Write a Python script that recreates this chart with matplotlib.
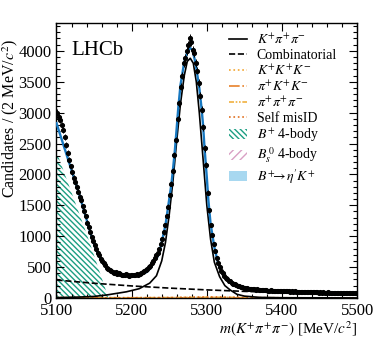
import matplotlib
matplotlib.use("Agg")
import matplotlib.pyplot as plt
import matplotlib.patches as mpatches
from matplotlib.lines import Line2D
from matplotlib.ticker import MultipleLocator
import numpy as np

plt.rcParams["font.family"] = ["Liberation Serif", "DejaVu Serif"]
plt.rcParams["mathtext.fontset"] = "stix"
plt.rcParams["hatch.linewidth"] = 1.0

# ── data: 2 MeV bins from 5100 to 5500 ────────────────────────────────────────
bin_centres = np.arange(5101, 5500, 2)
counts = [
    3000, 2930, 2880, 2800, 2720, 2610, 2480, 2350, 2240, 2130,
    2040, 1950, 1880, 1800, 1720, 1640, 1580, 1490, 1400, 1320,
    1220, 1150, 1060, 990, 920, 860, 790, 730, 690, 630,
    600, 560, 530, 490, 470, 460, 440, 420, 410, 420,
    395, 400, 385, 370, 380, 365, 385, 370, 360, 375,
    380, 365, 372, 385, 380, 395, 410, 415, 440, 450,
    470, 500, 510, 560, 600, 640, 700, 730, 790, 870,
    960, 1060, 1180, 1330, 1480, 1660, 1850, 2060, 2320, 2560,
    2890, 3150, 3420, 3600, 3800, 3880, 4000, 4100, 4200, 4150,
    4020, 3960, 3800, 3680, 3480, 3270, 3050, 2760, 2420, 2150,
    1700, 1420, 1180, 1020, 870, 760, 640, 560, 500, 440,
    400, 360, 330, 300, 280, 270, 250, 230, 225, 205,
    195, 190, 180, 170, 165, 160, 155, 150, 150, 145,
    140, 142, 135, 138, 130, 132, 125, 130, 122, 128,
    120, 118, 125, 115, 120, 112, 118, 110, 115, 118,
    110, 108, 115, 105, 110, 104, 108, 102, 106, 100,
    104, 98, 102, 97, 100, 96, 99, 95, 98, 92,
    96, 93, 90, 95, 88, 92, 86, 90, 88, 84,
    89, 85, 82, 87, 83, 80, 84, 81, 78, 82,
    79, 76, 80, 77, 75, 78, 74, 76, 73, 75,
]

# ── fit components ────────────────────────────────────────────────────────────
total_m = [5100, 5110, 5120, 5130, 5135, 5140, 5145, 5150, 5155, 5160,
           5165, 5170, 5175, 5180, 5185, 5190, 5195, 5200, 5205, 5210,
           5215, 5220, 5225, 5230, 5235, 5237.5, 5240, 5245, 5250, 5253,
           5255, 5257.5, 5260, 5262, 5265, 5270, 5275, 5278, 5281, 5285,
           5290, 5293, 5295, 5297, 5300, 5302, 5305, 5310, 5315, 5320,
           5324, 5330, 5335, 5344, 5350, 5360, 5370, 5380, 5400, 5425,
           5450, 5475, 5500]
total_y = [2830, 2450, 2070, 1690, 1480, 1270, 1060, 870, 720, 600,
           515, 455, 415, 390, 375, 365, 360, 360, 365, 378,
           400, 420, 480, 590, 680, 777, 900, 1180, 1600, 1857,
           2080, 2390, 2760, 3070, 3450, 3820, 4010, 4045, 4010, 3800,
           3400, 3070, 2800, 2420, 1950, 1590, 1200, 820, 560, 420,
           345, 260, 215, 183, 160, 142, 132, 124, 116, 106,
           96, 85, 76]

signal_m = [5100, 5130, 5150, 5167, 5193, 5210, 5224, 5233, 5240, 5245,
            5250, 5255, 5260, 5265, 5270, 5274, 5278, 5282, 5286, 5290,
            5295, 5300, 5305, 5310, 5317, 5324, 5331, 5340, 5350, 5370,
            5400, 5500]
signal_y = [5, 15, 25, 49, 100, 150, 240, 360, 600, 900,
            1350, 1900, 2550, 3150, 3600, 3830, 3880, 3800, 3500, 3000,
            2250, 1500, 950, 580, 345, 200, 130, 60, 30, 10,
            4, 1]

comb_m = [5100, 5150, 5200, 5250, 5300, 5350, 5400, 5450, 5500]
comb_y = [291, 238, 195, 160, 131, 107, 88, 72, 59]

bplus4_m = [5100, 5110, 5120, 5130, 5140, 5150, 5160, 5165, 5169, 5170]
bplus4_y = [2370, 2040, 1710, 1375, 1040, 690, 330, 150, 0, 0]

bs4_m = [5100, 5120, 5140, 5160, 5180, 5200]
bs4_y = [30, 22, 14, 7, 2, 0]

etapk_m = [5100, 5120, 5140, 5160, 5180]
etapk_y = [8, 6, 4, 2, 0]

kkk_m = [5100, 5150, 5200, 5250, 5300, 5350, 5400, 5500]
kkk_y = [6, 5, 4, 3, 2, 1, 1, 0]
pikk_m = [5100, 5150, 5200, 5250, 5300, 5350, 5400, 5500]
pikk_y = [4, 4, 3, 3, 2, 1, 1, 0]
pipipi_m = [5100, 5200, 5260, 5300, 5330, 5360, 5400, 5500]
pipipi_y = [2, 3, 6, 12, 10, 5, 3, 1]
misid_m = [5100, 5200, 5260, 5290, 5310, 5330, 5360, 5400, 5500]
misid_y = [1, 3, 8, 16, 18, 12, 6, 3, 1]

# ── figure ────────────────────────────────────────────────────────────────────
fig = plt.figure(figsize=(3.74, 3.39), dpi=100)
ax = fig.add_axes([0.151, 0.121, 0.804, 0.811])

green = "#1b9e82"
pink = "#d9a0c4"
lightblue = "#a8d8f0"
blue = "#1878c0"
green_hatch = "\\" * 6

ax.fill_between(bplus4_m, 0, bplus4_y, facecolor="none", edgecolor=green,
                hatch=green_hatch, linewidth=0, zorder=1)
ax.fill_between(bs4_m, 0, bs4_y, facecolor="none", edgecolor=pink,
                hatch="////", linewidth=0, zorder=1)
ax.fill_between(etapk_m, 0, etapk_y, facecolor=lightblue, linewidth=0, zorder=1)

ax.plot(kkk_m, kkk_y, color="#f2a530", ls=":", lw=1.2, zorder=2)
ax.plot(pikk_m, pikk_y, color="#e8822a", ls="-.", lw=1.2, zorder=2)
ax.plot(pipipi_m, pipipi_y, color="#f0b040", ls=(0, (3, 1, 1, 1, 1, 1)), lw=1.2, zorder=2)
ax.plot(misid_m, misid_y, color="#e07020", ls=":", lw=1.2, zorder=2)

ax.plot(comb_m, comb_y, color="black", ls="--", lw=1.2, zorder=3)
ax.plot(signal_m, signal_y, color="black", lw=1.2, zorder=3)
ax.plot(total_m, total_y, color=blue, lw=1.7, zorder=4)

counts_arr = np.array(counts, dtype=float)
ax.errorbar(bin_centres, counts_arr, yerr=np.sqrt(counts_arr), fmt="o",
            color="black", ms=2.7, elinewidth=0.7, capsize=0, zorder=5)

ax.set_xlim(5100, 5500)
ax.set_ylim(0, 4450)
ax.xaxis.set_major_locator(MultipleLocator(100))
ax.xaxis.set_minor_locator(MultipleLocator(20))
ax.yaxis.set_major_locator(MultipleLocator(500))
ax.yaxis.set_minor_locator(MultipleLocator(100))
ax.tick_params(which="both", direction="in", top=True, right=True,
               labelsize=12, width=0.8)
ax.tick_params(which="major", length=6)
ax.tick_params(which="minor", length=3)
for sp in ax.spines.values():
    sp.set_linewidth(1.0)

ax.set_ylabel(r"Candidates / (2 MeV/$c^2$)", fontsize=11.5)
ax.yaxis.set_label_coords(-0.122, 0.655)
ax.set_xlabel(r"$m(K^{+}\pi^{+}\pi^{-})$ [MeV/$c^2$]", fontsize=11)
ax.xaxis.set_label_coords(1.0, -0.078)
ax.xaxis.label.set_horizontalalignment("right")

ax.text(0.05, 0.935, "LHCb", transform=ax.transAxes, fontsize=15, va="top")

handles = [
    Line2D([], [], color="black", lw=1.2),
    Line2D([], [], color="black", ls="--", lw=1.2),
    Line2D([], [], color="#f2a530", ls=":", lw=1.2),
    Line2D([], [], color="#e8822a", ls="-.", lw=1.2),
    Line2D([], [], color="#f0b040", ls=(0, (3, 1, 1, 1, 1, 1)), lw=1.2),
    Line2D([], [], color="#e07020", ls=":", lw=1.2),
    mpatches.Patch(facecolor="none", edgecolor=green, hatch=green_hatch, linewidth=0),
    mpatches.Patch(facecolor="none", edgecolor=pink, hatch="////", linewidth=0),
    mpatches.Patch(facecolor=lightblue, linewidth=0),
]
labels = [
    r"$K^{+}\pi^{+}\pi^{-}$",
    "Combinatorial",
    r"$K^{+}K^{+}K^{-}$",
    r"$\pi^{+}K^{+}K^{-}$",
    r"$\pi^{+}\pi^{+}\pi^{-}$",
    "Self misID",
    r"$B^{+}$ 4-body",
    r"$B_s^{\,0}$ 4-body",
    r"$B^{+}\!\!\rightarrow\!\eta' K^{+}$",
]
ax.legend(handles, labels, loc="upper left", bbox_to_anchor=(0.555, 0.985),
          frameon=False, fontsize=10, handlelength=1.3, handletextpad=0.7,
          labelspacing=0.12, borderaxespad=0)

fig.savefig("out.png", dpi=100)
